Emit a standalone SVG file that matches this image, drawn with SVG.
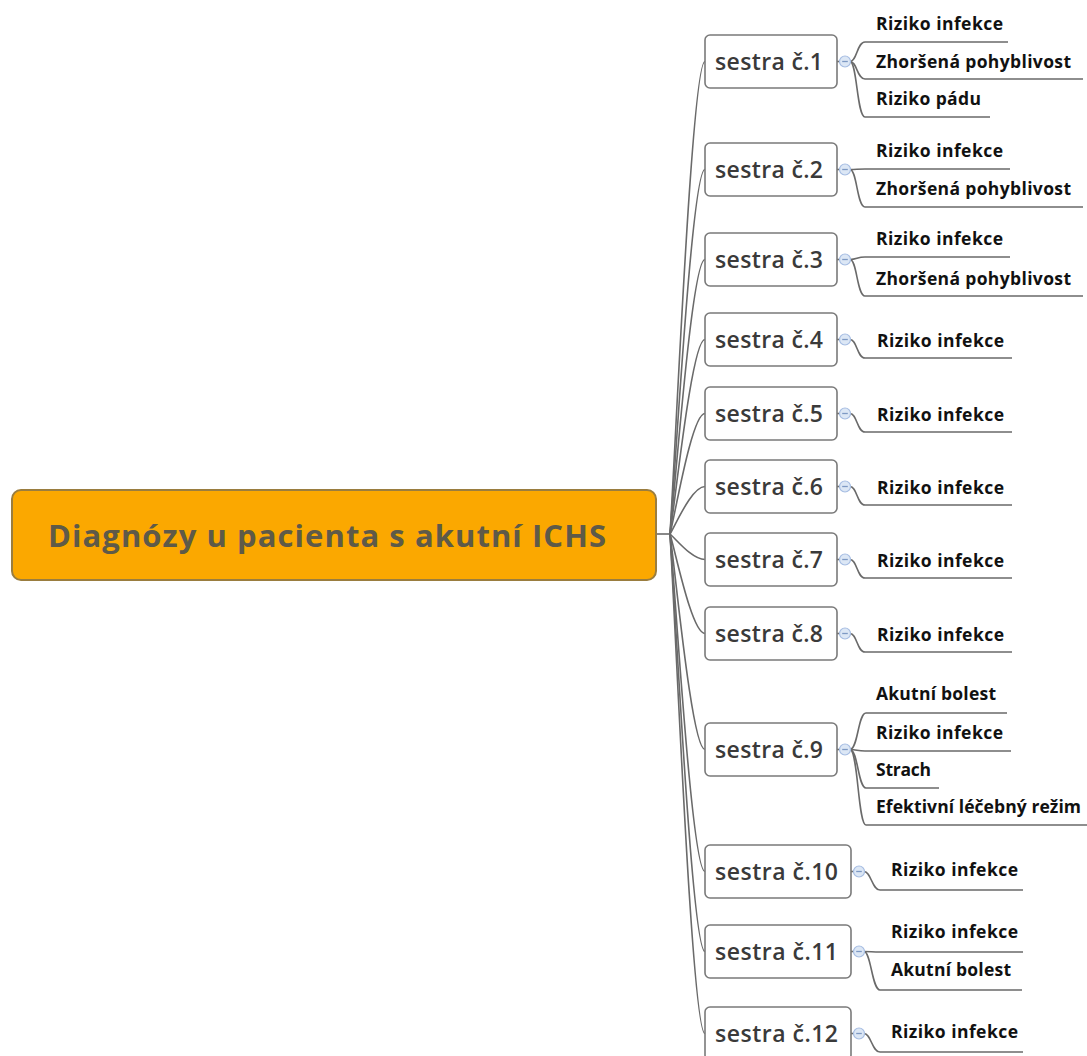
<svg xmlns="http://www.w3.org/2000/svg" width="1087" height="1056" viewBox="0 0 1087 1056">
  <style>
    .bg { fill: #ffffff; }
    .root-box { fill: #fba800; stroke: #9a7d3f; stroke-width: 2; }
    .root-text { font-family: "Open Sans", "Noto Sans", sans-serif; font-weight: 700; font-size: 31px; fill: #5e5a48; }
    .nurse-box { fill: #ffffff; stroke: #7a7a7a; stroke-width: 1.6; }
    .nurse-text { font-family: "Open Sans", "Noto Sans", sans-serif; font-weight: 600; font-size: 23px; fill: #3a3a3a; }
    .item-text { font-family: "Open Sans", "Noto Sans", sans-serif; font-weight: 700; font-size: 17.5px; fill: #111111; }
    .link { fill: none; stroke: #6a6a6a; stroke-width: 1.6; }
    .toggle { fill: #dce7f5; stroke: #a6bde2; stroke-width: 1.2; }
    .toggle-bar { stroke: #7d99c4; stroke-width: 1.3; }
  </style>
  <defs>
    <g id="toggle-icon">
      <circle class="toggle" cx="0" cy="0" r="5.5"/>
      <line class="toggle-bar" x1="-2.8" y1="0" x2="2.8" y2="0"/>
    </g>
  </defs>

  <rect class="bg" x="0" y="0" width="1087" height="1056"/>

  <!-- connectors: root to nurses, nurses to diagnoses -->
  <g id="connectors">
    <path class="link" d="M656 534 H670"/>
    <path class="link" d="M670 534 C676 439.5 692 61.5 705 61.5"/>
    <path class="link" d="M670 534 C676 461 692 169.5 705 169.5"/>
    <path class="link" d="M670 534 C676 479 692 259.5 705 259.5"/>
    <path class="link" d="M670 534 C676 495 692 339.5 705 339.5"/>
    <path class="link" d="M670 534 C676 510 692 413.5 705 413.5"/>
    <path class="link" d="M670 534 C676 524 692 486.5 705 486.5"/>
    <path class="link" d="M670 534 C676 539 692 559.5 705 559.5"/>
    <path class="link" d="M670 534 C676 554 692 633.5 705 633.5"/>
    <path class="link" d="M670 534 C676 577 692 749.5 705 749.5"/>
    <path class="link" d="M670 534 C676 602 692 871.5 705 871.5"/>
    <path class="link" d="M670 534 C676 618 692 951.5 705 951.5"/>
    <path class="link" d="M670 534 C676 634 692 1033.5 705 1033.5"/>

    <!-- nurse 1 -->
    <path class="link" d="M837 61.5 H840"/>
    <path class="link" d="M850 61.5 C857 61.5 857 42 865 42 H1008"/>
    <path class="link" d="M850 61.5 C857 61.5 857 79 865 79 H1083"/>
    <path class="link" d="M850 61.5 C857 61.5 857 117 865 117 H990"/>
    <!-- nurse 2 -->
    <path class="link" d="M837 169.5 H840"/>
    <path class="link" d="M850 169.5 C857 169.5 857 169 865 169 H1010"/>
    <path class="link" d="M850 169.5 C857 169.5 857 207 865 207 H1083"/>
    <!-- nurse 3 -->
    <path class="link" d="M837 259.5 H840"/>
    <path class="link" d="M850 259.5 C857 259.5 857 257 865 257 H1010"/>
    <path class="link" d="M850 259.5 C857 259.5 857 296 865 296 H1083"/>
    <!-- nurses 4-8 -->
    <path class="link" d="M837 339.5 H840"/>
    <path class="link" d="M850 339.5 C857 339.5 857 358 865 358 H1012"/>
    <path class="link" d="M837 413.5 H840"/>
    <path class="link" d="M850 413.5 C857 413.5 857 432 865 432 H1012"/>
    <path class="link" d="M837 486.5 H840"/>
    <path class="link" d="M850 486.5 C857 486.5 857 505 865 505 H1012"/>
    <path class="link" d="M837 559.5 H840"/>
    <path class="link" d="M850 559.5 C857 559.5 857 578 865 578 H1012"/>
    <path class="link" d="M837 633.5 H840"/>
    <path class="link" d="M850 633.5 C857 633.5 857 652 865 652 H1012"/>
    <!-- nurse 9 -->
    <path class="link" d="M837 749.5 H840"/>
    <path class="link" d="M850 749.5 C858 749.5 858 713 866 713 H1007"/>
    <path class="link" d="M850 749.5 C857 749.5 857 751 865 751 H1011"/>
    <path class="link" d="M850 749.5 C858 749.5 858 788 866 788 H939"/>
    <path class="link" d="M850 749.5 C858 749.5 858 825 866 825 H1087"/>
    <!-- nurses 10-12 -->
    <path class="link" d="M851 871.5 H854"/>
    <path class="link" d="M864 871.5 C871 871.5 872 890 880 890 H1023"/>
    <path class="link" d="M851 951.5 H854"/>
    <path class="link" d="M864 951.5 C871 951.5 872 952 880 952 H1023"/>
    <path class="link" d="M864 951.5 C871 951.5 872 990 880 990 H1022"/>
    <path class="link" d="M851 1033.5 H854"/>
    <path class="link" d="M864 1033.5 C871 1033.5 872 1052 880 1052 H1023"/>
  </g>

  <g id="root">
    <rect class="root-box" x="12" y="490" width="644" height="90" rx="9"/>
    <text class="root-text" x="48" y="547" textLength="558" lengthAdjust="spacing">Diagnózy u pacienta s akutní ICHS</text>
  </g>

  <g id="nurse-1">
    <rect class="nurse-box" x="705" y="35" width="132" height="53" rx="5"/>
    <text class="nurse-text" x="715" y="69.5" textLength="108" lengthAdjust="spacing">sestra č.1</text>
    <use href="#toggle-icon" x="845" y="61.5"/>
  </g>
  <g id="nurse-1-items">
    <text class="item-text" x="876" y="30" textLength="127" lengthAdjust="spacing">Riziko infekce</text>
    <text class="item-text" x="876" y="68" textLength="195" lengthAdjust="spacing">Zhoršená pohyblivost</text>
    <text class="item-text" x="876" y="105" textLength="105" lengthAdjust="spacing">Riziko pádu</text>
  </g>

  <g id="nurse-2">
    <rect class="nurse-box" x="705" y="143" width="132" height="53" rx="5"/>
    <text class="nurse-text" x="715" y="177.5" textLength="108" lengthAdjust="spacing">sestra č.2</text>
    <use href="#toggle-icon" x="845" y="169.5"/>
  </g>
  <g id="nurse-2-items">
    <text class="item-text" x="876" y="157" textLength="127" lengthAdjust="spacing">Riziko infekce</text>
    <text class="item-text" x="876" y="195" textLength="195" lengthAdjust="spacing">Zhoršená pohyblivost</text>
  </g>

  <g id="nurse-3">
    <rect class="nurse-box" x="705" y="233" width="132" height="53" rx="5"/>
    <text class="nurse-text" x="715" y="267.5" textLength="108" lengthAdjust="spacing">sestra č.3</text>
    <use href="#toggle-icon" x="845" y="259.5"/>
  </g>
  <g id="nurse-3-items">
    <text class="item-text" x="876" y="245" textLength="127" lengthAdjust="spacing">Riziko infekce</text>
    <text class="item-text" x="876" y="285" textLength="195" lengthAdjust="spacing">Zhoršená pohyblivost</text>
  </g>

  <g id="nurse-4">
    <rect class="nurse-box" x="705" y="313" width="132" height="53" rx="5"/>
    <text class="nurse-text" x="715" y="347.5" textLength="108" lengthAdjust="spacing">sestra č.4</text>
    <use href="#toggle-icon" x="845" y="339.5"/>
    <text class="item-text" x="877" y="347" textLength="127" lengthAdjust="spacing">Riziko infekce</text>
  </g>

  <g id="nurse-5">
    <rect class="nurse-box" x="705" y="387" width="132" height="53" rx="5"/>
    <text class="nurse-text" x="715" y="421.5" textLength="108" lengthAdjust="spacing">sestra č.5</text>
    <use href="#toggle-icon" x="845" y="413.5"/>
    <text class="item-text" x="877" y="421" textLength="127" lengthAdjust="spacing">Riziko infekce</text>
  </g>

  <g id="nurse-6">
    <rect class="nurse-box" x="705" y="460" width="132" height="53" rx="5"/>
    <text class="nurse-text" x="715" y="494.5" textLength="108" lengthAdjust="spacing">sestra č.6</text>
    <use href="#toggle-icon" x="845" y="486.5"/>
    <text class="item-text" x="877" y="494" textLength="127" lengthAdjust="spacing">Riziko infekce</text>
  </g>

  <g id="nurse-7">
    <rect class="nurse-box" x="705" y="533" width="132" height="53" rx="5"/>
    <text class="nurse-text" x="715" y="567.5" textLength="108" lengthAdjust="spacing">sestra č.7</text>
    <use href="#toggle-icon" x="845" y="559.5"/>
    <text class="item-text" x="877" y="567" textLength="127" lengthAdjust="spacing">Riziko infekce</text>
  </g>

  <g id="nurse-8">
    <rect class="nurse-box" x="705" y="607" width="132" height="53" rx="5"/>
    <text class="nurse-text" x="715" y="641.5" textLength="108" lengthAdjust="spacing">sestra č.8</text>
    <use href="#toggle-icon" x="845" y="633.5"/>
    <text class="item-text" x="877" y="641" textLength="127" lengthAdjust="spacing">Riziko infekce</text>
  </g>

  <g id="nurse-9">
    <rect class="nurse-box" x="705" y="723" width="132" height="53" rx="5"/>
    <text class="nurse-text" x="715" y="757.5" textLength="108" lengthAdjust="spacing">sestra č.9</text>
    <use href="#toggle-icon" x="845" y="749.5"/>
  </g>
  <g id="nurse-9-items">
    <text class="item-text" x="876" y="700" textLength="120" lengthAdjust="spacing">Akutní bolest</text>
    <text class="item-text" x="876" y="739" textLength="127" lengthAdjust="spacing">Riziko infekce</text>
    <text class="item-text" x="876" y="776" textLength="55" lengthAdjust="spacing">Strach</text>
    <text class="item-text" x="876" y="813" textLength="205" lengthAdjust="spacing">Efektivní léčebný režim</text>
  </g>

  <g id="nurse-10">
    <rect class="nurse-box" x="705" y="845" width="146" height="53" rx="5"/>
    <text class="nurse-text" x="715" y="879.5" textLength="123" lengthAdjust="spacing">sestra č.10</text>
    <use href="#toggle-icon" x="859" y="871.5"/>
    <text class="item-text" x="891" y="876" textLength="127" lengthAdjust="spacing">Riziko infekce</text>
  </g>

  <g id="nurse-11">
    <rect class="nurse-box" x="705" y="925" width="146" height="53" rx="5"/>
    <text class="nurse-text" x="715" y="959.5" textLength="123" lengthAdjust="spacing">sestra č.11</text>
    <use href="#toggle-icon" x="859" y="951.5"/>
  </g>
  <g id="nurse-11-items">
    <text class="item-text" x="891" y="938" textLength="127" lengthAdjust="spacing">Riziko infekce</text>
    <text class="item-text" x="891" y="976" textLength="120" lengthAdjust="spacing">Akutní bolest</text>
  </g>

  <g id="nurse-12">
    <rect class="nurse-box" x="705" y="1007" width="146" height="53" rx="5"/>
    <text class="nurse-text" x="715" y="1041.5" textLength="123" lengthAdjust="spacing">sestra č.12</text>
    <use href="#toggle-icon" x="859" y="1033.5"/>
    <text class="item-text" x="891" y="1038" textLength="127" lengthAdjust="spacing">Riziko infekce</text>
  </g>
</svg>
